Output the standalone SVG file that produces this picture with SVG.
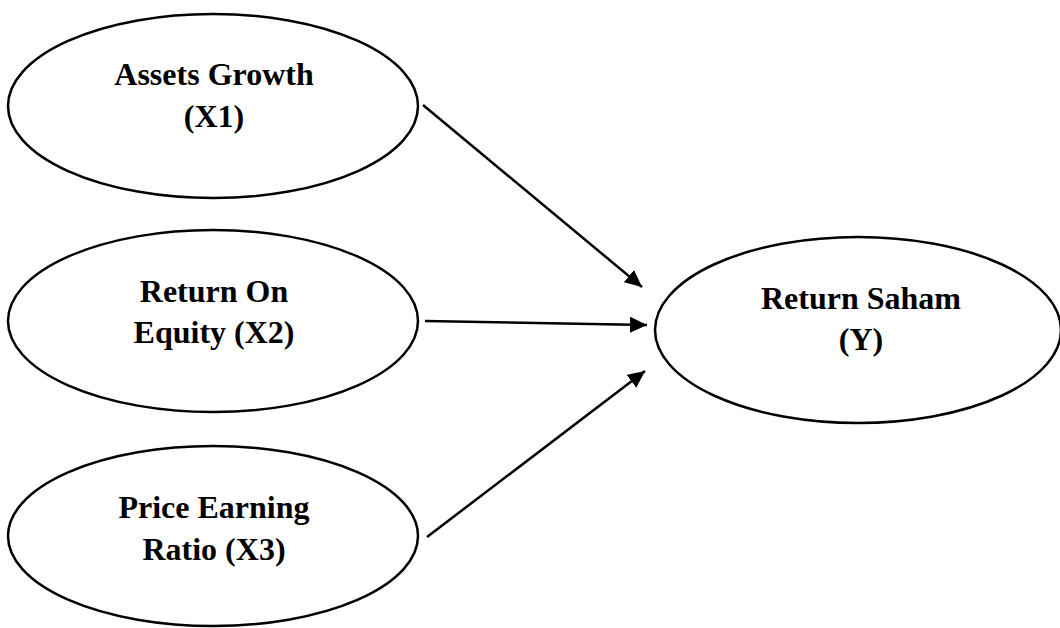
<svg xmlns="http://www.w3.org/2000/svg" width="1060" height="628" viewBox="0 0 1060 628">
<style>
.node ellipse{fill:#fff;stroke:#000;stroke-width:2.5}
.node text{font-family:"Liberation Serif","Times New Roman",serif;font-weight:bold;font-size:32px;fill:#000;text-anchor:middle}
.conn line{stroke:#000;stroke-width:2.5}
</style>
<defs>
<marker id="ah" markerUnits="userSpaceOnUse" markerWidth="17" markerHeight="16" refX="17" refY="8" orient="auto">
<path d="M0,0 L17,8 L0,16 Z" fill="#000"/>
</marker>
</defs>
<rect width="1060" height="628" fill="#fff"/>
<g id="connectors" class="conn">
<line x1="423" y1="105" x2="642" y2="287" marker-end="url(#ah)"/>
<line x1="425" y1="321" x2="647" y2="325" marker-end="url(#ah)"/>
<line x1="427" y1="537" x2="645" y2="371" marker-end="url(#ah)"/>
</g>
<g id="x1" class="node">
<ellipse cx="213" cy="106" rx="205" ry="92"/>
<text x="214" y="85">Assets Growth</text>
<text x="214" y="127">(X1)</text>
</g>
<g id="x2" class="node">
<ellipse cx="213" cy="321" rx="205" ry="91"/>
<text x="214" y="302">Return On</text>
<text x="214" y="343">Equity (X2)</text>
</g>
<g id="x3" class="node">
<ellipse cx="213" cy="536" rx="205" ry="90"/>
<text x="214" y="518">Price Earning</text>
<text x="214" y="560">Ratio (X3)</text>
</g>
<g id="y" class="node">
<ellipse cx="858" cy="330" rx="203" ry="93"/>
<text x="861" y="309">Return Saham</text>
<text x="861" y="350">(Y)</text>
</g>
</svg>
